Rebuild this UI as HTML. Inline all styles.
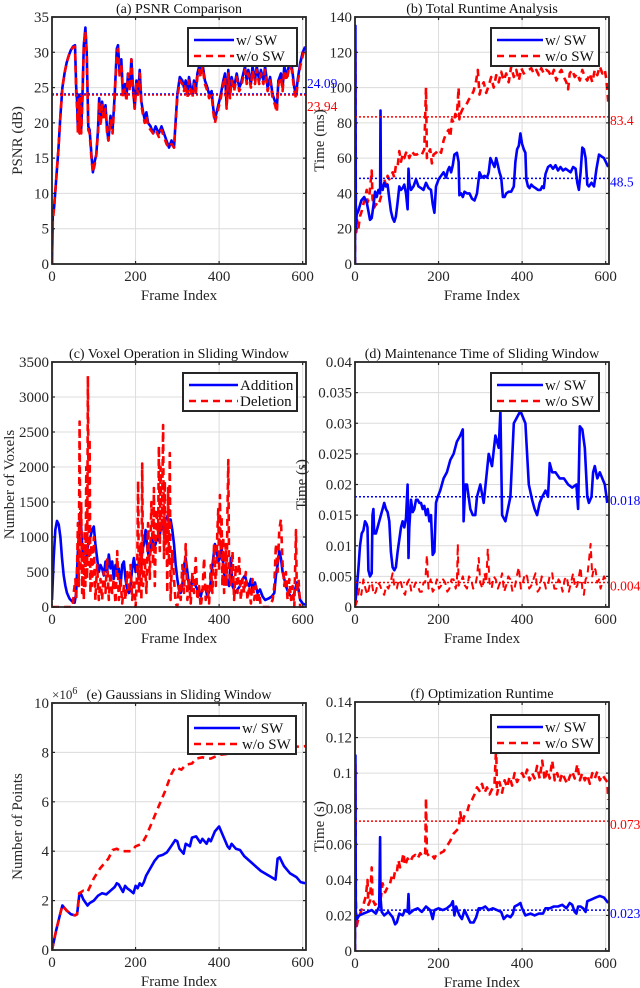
<!DOCTYPE html>
<html><head><meta charset="utf-8">
<style>
html,body{margin:0;padding:0;background:#fff;}
svg{display:block;font-family:"Liberation Serif",serif;}
</style></head>
<body>
<svg id="fig" width="640" height="988" viewBox="0 0 640 988" xmlns="http://www.w3.org/2000/svg"></svg>
<script>
// ---------- data ----------
const frameTicks=[0,200,400,600];
const psnrTicks=[0,5,10,15,20,25,30,35];
const runtimeTicks=[0,20,40,60,80,100,120,140];
const voxelTicks=[0,500,1000,1500,2000,2500,3000,3500];
const maintTicks=[0,0.005,0.01,0.015,0.02,0.025,0.03,0.035,0.04];
const maintTickLabels=["0","0.005","0.01","0.015","0.02","0.025","0.03","0.035","0.04"];
const gaussTicks=[0,2,4,6,8,10];
const optTicks=[0,0.02,0.04,0.06,0.08,0.1,0.12,0.14];

const psnrWithSW=[[0,0],[2,7],[5,8],[10,12],[15,16],[20,21],[25,25],[30,27],[35,28.5],[40,29.5],[45,30.3],[50,30.8],[55,31],[58,25],[60,23],[62,19],[64,24],[66,18.5],[68,24],[70,19],[73,24],[76,31],[80,33.5],[83,30],[87,19.5],[90,19],[95,15],[98,13],[102,14.5],[106,15.5],[110,19],[113,23.5],[116,20],[120,23],[124,21],[128,22.5],[132,19],[135,17.5],[140,21],[145,19],[150,24],[155,30.5],[158,31],[162,27],[166,29],[170,24],[175,25.5],[178,23.5],[182,27],[186,25],[190,29],[194,25],[198,22],[202,26],[206,24],[210,27.5],[214,23],[218,21.5],[222,20.5],[226,21.5],[230,20],[236,19.5],[242,18.5],[248,19.5],[256,18.5],[262,19.5],[268,18.5],[274,17.5],[280,16.5],[286,17.5],[292,16.5],[300,24],[306,26.5],[312,26],[316,25],[320,26],[324,24],[328,26.5],[332,25],[336,24],[340,26],[344,24.5],[348,27],[352,28],[356,27],[360,28.5],[366,26],[372,25],[376,24],[382,24.5],[386,22],[390,20.5],[394,21.5],[398,22.5],[404,24],[410,26],[414,27],[418,22.5],[422,27.5],[426,24],[430,26.5],[436,25],[442,27],[448,25],[452,25.5],[458,27],[462,28],[466,26],[470,27.5],[476,25.5],[480,28],[486,26],[490,28],[496,26],[500,27.5],[506,26],[510,28],[516,25],[522,26.5],[528,24],[534,23],[538,22],[542,26],[548,27],[552,25],[556,28],[562,26.5],[568,28.5],[574,28],[580,25],[584,24],[588,26],[594,28.5],[600,30],[606,30.8]];
const psnrWithoutSW=[[0,0],[2,6],[5,8],[10,12],[15,16],[20,21],[25,25],[30,27],[35,28.5],[40,29.5],[45,30.3],[50,30.7],[55,30.8],[58,24],[60,22],[62,18.5],[64,23.5],[66,18.5],[68,23.5],[70,18.5],[73,23.5],[76,31],[80,33],[83,30],[87,19],[90,18.5],[95,14.5],[98,13],[102,14],[106,15.5],[110,18.5],[113,23],[116,19.5],[120,22.5],[124,20.5],[128,22],[132,18.5],[135,17.5],[140,20.5],[145,18.5],[150,23.5],[155,30],[158,30.5],[162,26.5],[166,28.5],[170,23.5],[175,25],[178,23],[182,27],[186,24.5],[190,29],[194,24.5],[198,22],[202,25.5],[206,24],[210,27],[214,22.5],[218,21],[222,20],[226,21],[230,19.5],[236,19],[242,18.5],[248,19],[256,18],[262,19],[268,18],[274,17],[280,16.5],[286,17],[292,16.5],[300,23.5],[306,26],[312,25.5],[316,24.5],[320,25.5],[324,23.5],[328,26],[332,24.5],[336,23.5],[340,25.5],[344,24],[348,26.5],[352,27.5],[356,26.5],[360,28],[366,25.5],[372,24.5],[376,23.5],[382,24],[386,21.5],[390,20],[394,21],[398,22],[404,23.5],[410,25.5],[414,26.5],[418,22],[422,27],[426,23.5],[430,26],[436,24.5],[442,26.5],[448,24.5],[452,25],[458,26.5],[462,27.5],[466,25.5],[470,27],[476,25],[480,27.5],[486,25.5],[490,27.5],[496,25.5],[500,27],[506,25.5],[510,27.5],[516,24.5],[522,26],[528,23.5],[534,22.5],[538,21.5],[542,25.5],[548,26.5],[552,24.5],[556,27.5],[562,26],[568,28],[574,27.5],[580,24.5],[584,23.5],[588,25.5],[594,28],[600,29.5],[606,30.8]];
const psnrMeans=[24.09,23.94];

const runtimeWithSW=[[0,0],[1,135],[2,20],[4,28],[8,30],[15,36],[22,38],[28,35],[32,30],[36,25],[40,26],[44,33],[48,41],[52,38],[56,42],[60,40],[61,87],[62,45],[66,42],[70,46],[74,44],[78,45],[82,37],[86,30],[90,26],[94,24],[98,27],[102,35],[106,44],[110,42],[114,43],[118,45],[122,40],[126,31],[128,54],[130,46],[134,42],[140,44],[146,48],[152,44],[158,43],[164,42],[170,46],[176,43],[182,42],[186,34],[190,29],[194,44],[200,48],[206,50],[212,52],[218,49],[222,53],[226,55],[230,52],[234,56],[238,62],[244,63],[248,58],[250,39],[254,40],[258,38],[262,41],[268,40],[274,40],[280,37],[286,36],[292,40],[298,52],[304,49],[310,50],[316,49],[320,52],[324,60],[328,58],[334,55],[338,60],[342,56],[346,52],[350,49],[354,38],[358,38],[362,40],[368,41],[374,41],[380,44],[384,58],[388,65],[392,67],[396,74],[400,68],[404,65],[408,63],[410,48],[414,44],[418,43],[422,45],[426,44],[432,43],[438,42],[444,42],[448,44],[452,43],[456,51],[462,55],[468,56],[474,54],[480,56],[486,53],[492,55],[498,53],[504,54],[510,53],[516,52],[522,55],[528,54],[532,46],[536,42],[540,52],[544,66],[548,65],[552,60],[556,45],[560,44],[566,46],[572,44],[578,54],[584,62],[590,61],[596,60],[600,58],[606,55]];
const runtimeWithoutSW=[[0,0],[1,122],[2,40],[3,18],[5,25],[8,20],[12,27],[16,30],[20,34],[24,37],[28,42],[30,35],[34,38],[38,48],[40,53],[42,37],[46,32],[50,34],[56,33],[62,38],[66,42],[70,48],[74,45],[78,50],[82,48],[86,50],[90,52],[94,49],[98,56],[102,55],[106,64],[110,58],[114,62],[118,60],[122,63],[126,64],[130,60],[136,64],[142,62],[148,62],[154,63],[160,62],[166,65],[170,100],[172,60],[176,63],[180,65],[184,57],[188,62],[194,63],[200,65],[206,63],[212,70],[218,74],[224,76],[228,72],[232,82],[236,80],[240,85],[244,84],[248,100],[250,82],[254,86],[260,89],[266,90],[272,93],[278,95],[284,98],[290,104],[294,110],[298,96],[302,100],[308,103],[314,97],[320,101],[326,106],[332,100],[338,107],[344,103],[350,109],[356,104],[362,108],[368,103],[374,112],[380,106],[386,110],[392,104],[398,111],[404,108],[410,109],[416,110],[422,111],[428,108],[434,110],[440,107],[446,111],[452,108],[458,110],[464,109],[470,106],[476,110],[482,104],[488,108],[494,110],[500,106],[506,103],[510,99],[514,108],[520,110],[526,106],[532,108],[538,104],[544,110],[550,106],[556,104],[562,108],[568,103],[574,110],[580,107],[586,112],[592,108],[598,110],[602,104],[606,92]];
const runtimeMeans=[48.5,83.4];

const voxelAddition=[[0,100],[4,700],[8,1100],[12,1230],[16,1180],[20,1000],[24,700],[28,450],[32,300],[36,200],[42,120],[48,80],[54,60],[58,200],[62,800],[66,1200],[68,1350],[72,900],[76,700],[80,600],[84,800],[88,950],[92,1000],[96,1100],[100,1150],[104,900],[108,700],[112,500],[116,600],[120,550],[124,450],[128,650],[132,500],[136,750],[140,550],[144,650],[148,400],[152,600],[156,450],[160,550],[164,300],[168,600],[172,650],[176,400],[180,250],[184,200],[188,300],[192,550],[196,700],[200,500],[204,600],[208,400],[212,500],[216,800],[220,900],[224,1100],[228,850],[232,700],[236,800],[240,1000],[244,850],[248,900],[252,1000],[256,950],[260,1100],[264,1200],[268,1050],[272,1250],[276,1300],[280,1200],[284,1250],[288,1100],[292,900],[296,600],[300,400],[304,250],[308,200],[312,300],[316,600],[320,700],[324,500],[328,300],[332,250],[336,400],[340,350],[344,300],[348,250],[352,200],[356,150],[360,250],[366,300],[372,150],[378,250],[382,500],[386,700],[390,900],[394,800],[398,650],[402,700],[406,850],[410,600],[414,350],[418,400],[424,300],[428,700],[432,300],[438,200],[444,250],[450,300],[456,400],[462,450],[466,350],[472,300],[476,400],[480,250],[486,350],[492,200],[498,250],[504,150],[510,100],[518,120],[526,150],[532,200],[536,450],[540,600],[544,800],[548,700],[552,500],[556,400],[560,300],[566,200],[572,150],[578,150],[582,250],[586,350],[590,250],[594,100],[600,50],[606,30]];
const voxelDeletion=[[0,0],[50,0],[52,200],[56,400],[58,100],[60,600],[62,1200],[64,300],[66,2650],[68,500],[70,1500],[72,200],[74,900],[76,100],[78,1100],[80,300],[82,2000],[84,400],[86,3300],[88,600],[90,2400],[92,200],[94,900],[96,300],[100,1000],[104,100],[108,600],[112,100],[116,400],[120,100],[124,500],[128,200],[132,700],[136,100],[140,500],[144,200],[148,400],[152,50],[156,800],[160,100],[164,400],[168,50],[172,300],[176,100],[180,500],[184,200],[188,600],[192,100],[196,400],[200,0],[204,500],[206,1800],[208,200],[212,900],[214,100],[216,2050],[218,300],[222,700],[226,200],[230,1200],[234,400],[238,1500],[242,600],[244,1700],[246,300],[250,1400],[254,1000],[256,2300],[258,800],[260,2000],[262,1100],[264,1600],[266,2600],[268,700],[270,1800],[272,900],[274,1200],[276,200],[278,1700],[280,600],[282,2200],[284,100],[288,800],[292,400],[296,50],[300,0],[304,300],[308,100],[312,600],[316,200],[320,900],[324,100],[328,400],[332,50],[336,500],[340,200],[344,700],[348,100],[352,300],[356,0],[360,200],[364,700],[368,100],[372,300],[376,50],[380,600],[384,200],[388,900],[392,300],[396,1100],[398,1400],[400,500],[402,1600],[404,800],[406,1300],[408,300],[410,1000],[412,200],[416,900],[418,300],[420,1400],[422,2100],[424,500],[428,300],[432,800],[436,100],[440,600],[444,200],[448,700],[452,100],[456,400],[460,200],[464,500],[468,100],[472,300],[476,50],[480,400],[484,100],[488,300],[492,50],[496,200],[500,0],[520,0],[528,100],[532,300],[536,900],[540,500],[544,1100],[548,1250],[552,600],[556,300],[560,500],[564,100],[568,400],[572,100],[576,300],[580,0],[584,1100],[586,200],[590,400],[594,0],[606,0]];

const maintWithSW=[[0,0],[4,0.003],[8,0.006],[12,0.01],[16,0.012],[20,0.0125],[24,0.014],[28,0.0135],[30,0.013],[32,0.006],[36,0.005],[40,0.0055],[42,0.015],[44,0.016],[46,0.012],[50,0.012],[54,0.013],[58,0.014],[62,0.015],[66,0.016],[70,0.017],[74,0.016],[78,0.0155],[82,0.014],[86,0.009],[90,0.0065],[94,0.006],[98,0.0065],[102,0.009],[106,0.011],[110,0.013],[114,0.014],[118,0.013],[122,0.0145],[126,0.02],[127,0.014],[128,0.008],[130,0.013],[134,0.0175],[138,0.0155],[142,0.016],[146,0.0175],[150,0.0175],[154,0.017],[158,0.017],[162,0.016],[166,0.0165],[170,0.015],[174,0.016],[178,0.014],[182,0.015],[186,0.0085],[190,0.009],[194,0.017],[198,0.018],[204,0.019],[212,0.021],[220,0.022],[228,0.024],[236,0.025],[244,0.027],[252,0.028],[258,0.029],[260,0.014],[264,0.02],[268,0.02],[276,0.016],[282,0.015],[288,0.015],[292,0.018],[300,0.02],[308,0.017],[314,0.021],[320,0.025],[328,0.023],[336,0.028],[344,0.026],[348,0.032],[352,0.015],[360,0.014],[366,0.016],[372,0.018],[380,0.03],[388,0.031],[396,0.032],[402,0.031],[408,0.03],[412,0.025],[416,0.02],[424,0.0175],[430,0.016],[436,0.015],[442,0.017],[448,0.018],[456,0.019],[462,0.018],[466,0.0235],[472,0.022],[480,0.022],[490,0.021],[500,0.021],[510,0.02],[520,0.0195],[530,0.02],[534,0.016],[538,0.0295],[544,0.029],[550,0.026],[556,0.018],[560,0.017],[566,0.018],[570,0.022],[574,0.023],[580,0.021],[586,0.022],[592,0.021],[598,0.02],[604,0.017]];
const maintWithoutSW=[[0,0],[5,0.001],[10,0.003],[15,0.002],[20,0.0045],[25,0.003],[30,0.002],[35,0.0035],[40,0.004],[45,0.002],[50,0.0025],[55,0.004],[60,0.0035],[65,0.0025],[70,0.002],[75,0.0035],[80,0.003],[85,0.004],[90,0.0055],[95,0.003],[100,0.003],[105,0.0045],[110,0.004],[115,0.0025],[120,0.002],[125,0.004],[130,0.0045],[135,0.0025],[140,0.003],[145,0.004],[150,0.0035],[155,0.0025],[160,0.0025],[164,0.004],[168,0.004],[172,0.0085],[176,0.003],[181,0.0045],[186,0.0025],[191,0.003],[196,0.0045],[201,0.003],[206,0.0035],[211,0.0045],[216,0.004],[221,0.0025],[226,0.003],[231,0.0045],[236,0.0045],[241,0.003],[244,0.004],[246,0.0103],[248,0.0035],[253,0.004],[258,0.005],[263,0.0035],[268,0.003],[273,0.005],[278,0.0045],[283,0.003],[288,0.0035],[292,0.005],[296,0.008],[300,0.004],[305,0.003],[310,0.0055],[314,0.004],[318,0.0095],[322,0.004],[327,0.003],[332,0.005],[337,0.0045],[342,0.003],[347,0.004],[352,0.0055],[357,0.0025],[362,0.0035],[367,0.005],[372,0.0045],[377,0.0025],[382,0.003],[387,0.005],[392,0.0065],[397,0.003],[402,0.004],[407,0.0055],[412,0.005],[417,0.003],[422,0.0035],[427,0.0045],[432,0.0055],[437,0.0025],[442,0.003],[447,0.005],[452,0.0045],[457,0.003],[462,0.0035],[467,0.0055],[472,0.0055],[477,0.003],[482,0.003],[487,0.0045],[492,0.004],[497,0.0025],[502,0.0045],[507,0.005],[512,0.0025],[517,0.004],[522,0.0055],[527,0.003],[532,0.0035],[536,0.005],[540,0.0065],[544,0.003],[548,0.002],[552,0.0045],[556,0.005],[560,0.0075],[564,0.0103],[568,0.005],[572,0.0065],[576,0.006],[580,0.004],[584,0.0045],[588,0.003],[592,0.004],[596,0.005],[600,0.0045],[606,0.0045]];
const maintMeans=[0.018,0.004];

const gaussWithSW=[[0,0],[10,0.8],[20,1.5],[25,1.8],[30,1.7],[35,1.6],[45,1.45],[55,1.4],[60,1.45],[65,2.2],[70,2.25],[75,2.05],[85,1.8],[90,1.9],[100,2.0],[110,2.2],[120,2.3],[130,2.25],[140,2.4],[150,2.55],[155,2.7],[160,2.65],[165,2.5],[170,2.35],[175,2.6],[180,2.5],[188,2.4],[195,2.3],[200,2.6],[205,2.5],[210,2.7],[215,2.6],[220,2.75],[225,3.0],[235,3.3],[245,3.6],[255,3.8],[265,3.85],[275,3.95],[285,4.2],[295,4.45],[300,4.4],[305,4.1],[315,3.9],[320,4.3],[330,4.2],[335,4.55],[345,4.6],[355,4.35],[360,4.5],[370,4.3],[375,4.5],[380,4.4],[390,4.8],[400,5.0],[410,4.6],[420,4.2],[425,4.1],[430,4.3],[440,4.1],[450,4.05],[460,3.8],[480,3.5],[500,3.2],[520,3.0],[535,2.85],[540,3.7],[545,3.75],[555,3.4],[570,3.1],[585,2.95],[595,2.75],[606,2.7]];
const gaussWithoutSW=[[0,0],[10,0.8],[20,1.5],[25,1.8],[35,1.6],[45,1.45],[55,1.4],[60,1.45],[65,2.3],[75,2.4],[85,2.35],[100,2.9],[115,3.3],[125,3.5],[135,3.7],[145,4.05],[155,4.1],[165,4.0],[175,4.0],[190,4.0],[200,4.2],[215,4.3],[225,4.6],[240,5.2],[255,5.8],[270,6.4],[285,7.1],[295,7.4],[310,7.3],[320,7.5],[335,7.55],[345,7.75],[360,7.8],[375,7.75],[380,7.75],[400,7.9],[450,8.0],[500,8.1],[550,8.2],[606,8.25]];

const optWithSW=[[0,0],[1,0.11],[2,0.022],[5,0.018],[10,0.02],[20,0.021],[30,0.022],[40,0.023],[50,0.021],[58,0.025],[60,0.064],[61,0.03],[64,0.022],[70,0.02],[80,0.022],[90,0.019],[96,0.015],[100,0.016],[106,0.021],[114,0.02],[120,0.023],[126,0.022],[128,0.032],[130,0.021],[140,0.023],[150,0.024],[160,0.022],[170,0.025],[180,0.023],[186,0.018],[190,0.023],[200,0.024],[210,0.023],[220,0.024],[230,0.026],[234,0.028],[238,0.02],[242,0.025],[250,0.02],[256,0.018],[262,0.023],[268,0.02],[276,0.016],[284,0.016],[290,0.019],[296,0.024],[304,0.024],[312,0.025],[320,0.023],[330,0.024],[340,0.023],[350,0.022],[356,0.018],[364,0.02],[372,0.019],[378,0.021],[382,0.025],[390,0.026],[396,0.027],[400,0.024],[408,0.02],[420,0.021],[430,0.02],[440,0.021],[450,0.021],[456,0.024],[466,0.024],[476,0.025],[486,0.025],[496,0.026],[506,0.024],[514,0.027],[520,0.026],[526,0.022],[530,0.021],[534,0.025],[540,0.025],[546,0.024],[552,0.022],[556,0.028],[566,0.029],[576,0.03],[586,0.031],[596,0.03],[606,0.027]];
const optWithoutSW=[[0,0],[1,0.105],[2,0.03],[4,0.014],[8,0.018],[14,0.022],[20,0.026],[26,0.031],[30,0.04],[32,0.026],[36,0.028],[40,0.047],[42,0.029],[48,0.026],[56,0.028],[62,0.03],[66,0.038],[72,0.033],[78,0.036],[84,0.038],[88,0.042],[92,0.04],[96,0.045],[100,0.044],[104,0.051],[108,0.047],[112,0.05],[116,0.055],[120,0.048],[126,0.052],[132,0.05],[138,0.053],[144,0.054],[150,0.052],[156,0.055],[162,0.053],[168,0.055],[170,0.086],[172,0.055],[178,0.053],[184,0.054],[190,0.052],[196,0.055],[204,0.055],[212,0.056],[220,0.059],[228,0.062],[236,0.066],[244,0.068],[248,0.069],[252,0.078],[256,0.072],[262,0.076],[268,0.078],[274,0.083],[280,0.085],[286,0.088],[292,0.092],[298,0.09],[304,0.094],[310,0.089],[316,0.092],[322,0.088],[328,0.091],[334,0.094],[338,0.115],[340,0.088],[346,0.095],[352,0.089],[358,0.096],[364,0.092],[370,0.098],[376,0.093],[382,0.1],[388,0.095],[394,0.098],[400,0.1],[406,0.097],[412,0.102],[418,0.096],[424,0.1],[430,0.097],[436,0.104],[442,0.097],[448,0.107],[454,0.096],[460,0.102],[466,0.097],[472,0.107],[478,0.096],[484,0.1],[490,0.095],[496,0.1],[502,0.097],[508,0.094],[514,0.098],[520,0.101],[526,0.097],[532,0.105],[538,0.096],[544,0.1],[550,0.096],[556,0.099],[562,0.094],[568,0.1],[574,0.097],[580,0.101],[586,0.096],[592,0.099],[598,0.097],[604,0.095],[606,0.085]];
const optMeans=[0.023,0.073];

// ---------- drawing ----------
const NS="http://www.w3.org/2000/svg";
const svg=document.getElementById('fig');
const BLUE="#0000ff", RED="#ff0000";
function mk(tag,attrs,parent,text){
  const e=document.createElementNS(NS,tag);
  for(const k in attrs) e.setAttribute(k,attrs[k]);
  if(text!==undefined) e.textContent=text;
  (parent||svg).appendChild(e);
  return e;
}
let clipId=0;
function panel(p){
  const g=mk('g',{});
  
  
  const L=p.x0,R=p.x1,T=p.y0,B=p.y1, xmax=608;
  const sx=v=>L+(R-L)*v/xmax;
  const sy=v=>B-(B-T)*(v-p.ymin)/(p.ymax-p.ymin);
  const grid=mk('g',{},g);
  
  
  frameTicks.forEach(t=>mk('line',{x1:sx(t),x2:sx(t),y1:T,y2:B,stroke:'#dcdcdc','stroke-width':1},grid));
  p.yticks.forEach(t=>mk('line',{x1:L,x2:R,y1:sy(t),y2:sy(t),stroke:'#dcdcdc','stroke-width':1},grid));
  const cid='c'+(clipId++);
  const cp=mk('clipPath',{id:cid},g);
  mk('rect',{x:L,y:T-1,width:R-L,height:B-T+2},cp);
  const plot=mk('g',{'clip-path':'url(#'+cid+')'},g);
  p.series.forEach(s=>{
    const d=s.data.map((pt,i)=>(i?'L':'M')+sx(pt[0]).toFixed(1)+' '+sy(pt[1]).toFixed(1)).join(' ');
    const path=mk('path',{d:d,fill:'none',stroke:s.color,'stroke-width':s.w||2.6,'stroke-linejoin':'round','stroke-dasharray':s.dash?'7,5':'none'},plot);
    
    
  });
  (p.means||[]).forEach(m=>{
    const y=sy(m.v);
    const ln=mk('line',{x1:L,x2:R,y1:y,y2:y,stroke:m.color,'stroke-width':1.5,'stroke-dasharray':'2,2'},g);
    
    
    const tx=mk('text',{x:R+1,y:y+4+(m.dy||0),fill:m.color,'font-size':13.5},g,m.label);
    
    
  });
  mk('rect',{x:L,y:T,width:R-L,height:B-T,fill:'none',stroke:'#262626','stroke-width':1.8},g);
  frameTicks.forEach(t=>{
    mk('line',{x1:sx(t),x2:sx(t),y1:B,y2:B-3,stroke:'#262626','stroke-width':1.2},g);
    mk('line',{x1:sx(t),x2:sx(t),y1:T,y2:T+3,stroke:'#262626','stroke-width':1.2},g);
    const lb=mk('text',{x:sx(t),y:B+17,'text-anchor':'middle','font-size':15,fill:'#262626'},g,String(t));
    
    
  });
  p.yticks.forEach((t,i)=>{
    mk('line',{x1:L,x2:L+3,y1:sy(t),y2:sy(t),stroke:'#262626','stroke-width':1.2},g);
    mk('line',{x1:R,x2:R-3,y1:sy(t),y2:sy(t),stroke:'#262626','stroke-width':1.2},g);
    const lb=mk('text',{x:L-3,y:sy(t)+5,'text-anchor':'end','font-size':15,fill:'#262626'},g,p.ylabels?p.ylabels[i]:String(t));
    
    
  });
  const tt=mk('text',{x:(L+R)/2,y:T-4,'text-anchor':'middle','font-size':14,fill:'#111'},g,p.title);
  
  
  const xl=mk('text',{x:(L+R)/2,y:B+36,'text-anchor':'middle','font-size':15,fill:'#262626'},g,'Frame Index');
  
  
  const yl=mk('text',{x:0,y:0,'text-anchor':'middle','font-size':15,fill:'#262626',transform:'translate('+p.ylx+','+((T+B)/2)+') rotate(-90)'},g,p.ylabel);
  
  
  const lg=mk('g',{},g);
  
  
  const Lg=p.legend;
  mk('rect',{x:Lg.x,y:Lg.y,width:Lg.w,height:38,fill:'#fff',stroke:'#262626','stroke-width':2},lg);
  Lg.items.forEach((it,i)=>{
    const yy=Lg.y+12+i*16;
    mk('line',{x1:Lg.x+6,x2:Lg.x+Lg.lw,y1:yy,y2:yy,stroke:it.color,'stroke-width':2.6,'stroke-dasharray':it.dash?'7,5':'none'},lg);
    const t=mk('text',{x:Lg.x+Lg.lw+2,y:yy+5,'font-size':15,fill:'#111'},lg,it.label);
    
    
  });
  if(p.exp){
    const e=mk('text',{x:L,y:T-4,'font-size':13,fill:'#262626'},g);
    
    
    e.textContent='×10';
    mk('tspan',{dy:-5,'font-size':10},e,'6');
  }
}
const legSW=[{label:'w/ SW',color:BLUE},{label:'w/o SW',color:RED,dash:true}];
panel({name:'panel-psnr',x0:52,x1:306,y0:17,y1:264,ymin:0,ymax:35,yticks:psnrTicks,title:'(a) PSNR Comparison',ylabel:'PSNR (dB)',ylx:22,
  series:[{name:'psnr-with-sw',data:psnrWithSW,color:BLUE},{name:'psnr-without-sw',data:psnrWithoutSW,color:RED,dash:true}],
  means:[{v:psnrMeans[0],color:BLUE,label:'24.09',dy:-10},{v:psnrMeans[1],color:RED,label:'23.94',dy:12}],
  legend:{x:188,y:28,w:109,lw:46,items:legSW}});
panel({name:'panel-runtime',x0:355,x1:609,y0:17,y1:264,ymin:0,ymax:140,yticks:runtimeTicks,title:'(b) Total Runtime Analysis',ylabel:'Time (ms)',ylx:324,
  series:[{name:'runtime-without-sw',data:runtimeWithoutSW,color:RED,dash:true},{name:'runtime-with-sw',data:runtimeWithSW,color:BLUE}],
  means:[{v:runtimeMeans[0],color:BLUE,label:'48.5',dy:4},{v:runtimeMeans[1],color:RED,label:'83.4',dy:4}],
  legend:{x:491,y:28,w:108,lw:52,items:legSW}});
panel({name:'panel-voxels',x0:52,x1:306,y0:362,y1:607,ymin:0,ymax:3500,yticks:voxelTicks,title:'(c) Voxel Operation in Sliding Window',ylabel:'Number of Voxels',ylx:14,
  series:[{name:'voxel-addition',data:voxelAddition,color:BLUE},{name:'voxel-deletion',data:voxelDeletion,color:RED,dash:true}],
  legend:{x:183,y:373,w:114,lw:55,items:[{label:'Addition',color:BLUE},{label:'Deletion',color:RED,dash:true}]}});
panel({name:'panel-maintenance',x0:355,x1:609,y0:362,y1:607,ymin:0,ymax:0.04,yticks:maintTicks,ylabels:maintTickLabels,title:'(d) Maintenance Time of Sliding Window',ylabel:'Time (s)',ylx:306,
  series:[{name:'maint-with-sw',data:maintWithSW,color:BLUE},{name:'maint-without-sw',data:maintWithoutSW,color:RED,dash:true,w:2}],
  means:[{v:maintMeans[0],color:BLUE,label:'0.018',dy:4},{v:maintMeans[1],color:RED,label:'0.004',dy:4}],
  legend:{x:491,y:373,w:108,lw:52,items:legSW}});
panel({name:'panel-gaussians',x0:52,x1:306,y0:703,y1:950,ymin:0,ymax:10,yticks:gaussTicks,title:'(e) Gaussians in Sliding Window',ylabel:'Number of Points',ylx:22,exp:true,
  series:[{name:'gauss-with-sw',data:gaussWithSW,color:BLUE},{name:'gauss-without-sw',data:gaussWithoutSW,color:RED,dash:true}],
  legend:{x:188,y:716,w:108,lw:52,items:legSW}});
panel({name:'panel-optimization',x0:355,x1:609,y0:702,y1:951,ymin:0,ymax:0.14,yticks:optTicks,title:'(f) Optimization Runtime',ylabel:'Time (s)',ylx:324,
  series:[{name:'opt-without-sw',data:optWithoutSW,color:RED,dash:true},{name:'opt-with-sw',data:optWithSW,color:BLUE}],
  means:[{v:optMeans[0],color:BLUE,label:'0.023',dy:4},{v:optMeans[1],color:RED,label:'0.073',dy:4}],
  legend:{x:491,y:715,w:108,lw:52,items:legSW}});
</script>
</body></html>
